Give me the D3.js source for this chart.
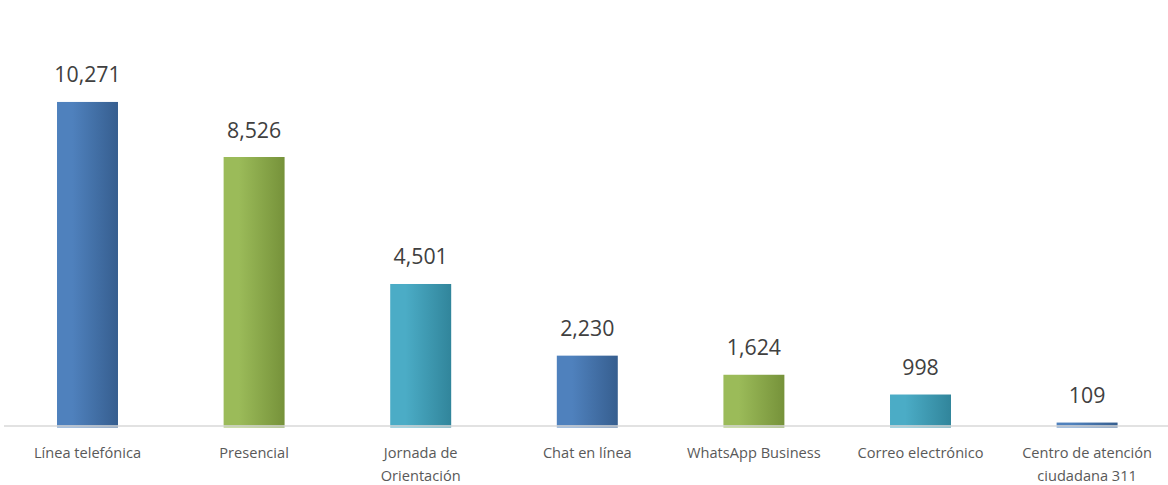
<!DOCTYPE html>
<html><head><meta charset="utf-8">
<script src="https://cdn.jsdelivr.net/npm/d3@7"></script>
<style>body{margin:0;background:#fff}svg{display:block}</style>
</head><body><svg id="c" width="1168" height="485"></svg>
<script>
const categories = [["Línea telefónica"],["Presencial"],["Jornada de","Orientación"],["Chat en línea"],["WhatsApp Business"],["Correo electrónico"],["Centro de atención","ciudadana 311"]];
const values = [10271, 8526, 4501, 2230, 1624, 998, 109];
const colorKeys = ["blue","green","teal","blue","green","teal","blue"];
const palette = {blue:["#4f81bd","#365e8f"], green:["#9bbb59","#76923a"], teal:["#4bacc6","#31859b"]};

const svg = d3.select("#c");
const W = 1168, H = 485;
const x = d3.scaleBand().domain(d3.range(values.length)).range([4.2, 1170.4]).paddingInner(0.634).paddingOuter(0.317);
const y = d3.scaleLinear().domain([0, 12000]).range([426, 47.4]);

const defs = svg.append("defs");
Object.entries(palette).forEach(([k,c])=>{
  const g = defs.append("linearGradient").attr("id","g_"+k).attr("x1","0%").attr("x2","100%").attr("y1","0%").attr("y2","0%");
  g.append("stop").attr("offset","0%").attr("stop-color",c[0]);
  g.append("stop").attr("offset","25%").attr("stop-color",c[0]);
  g.append("stop").attr("offset","100%").attr("stop-color",c[1]);
});

svg.selectAll("rect.bar").data(values).join("rect").attr("class","bar")
  .attr("x",(d,i)=>x(i)).attr("width",x.bandwidth())
  .attr("y",d=>y(d)).attr("height",d=>y(0)-y(d)+1.5)
  .attr("fill",(d,i)=>"url(#g_"+colorKeys[i]+")");

// axis line
svg.append("line").attr("x1",4).attr("x2",W).attr("y1",y(0)).attr("y2",y(0))
  .attr("stroke","#d9d9d9").attr("stroke-width",1.5);

svg.selectAll("text.val").data(values).join("text").attr("class","val")
  .attr("x",(d,i)=>x(i)+x.bandwidth()/2).attr("y",d=>y(d)-19.5)
  .attr("text-anchor","middle").attr("font-family","Open Sans").attr("font-size",21.3)
  .attr("fill","#404040").text(d=>d3.format(",")(d));

const cat = svg.selectAll("text.cat").data(categories).join("text").attr("class","cat")
  .attr("text-anchor","middle").attr("font-family","Open Sans").attr("font-size",14.6)
  .attr("fill","#595959");
cat.each(function(lines,i){
  const t = d3.select(this);
  lines.forEach((s,j)=>t.append("tspan").attr("x",x(i)+x.bandwidth()/2).attr("y",457.5+j*23.5).text(s));
});
</script></body></html>
